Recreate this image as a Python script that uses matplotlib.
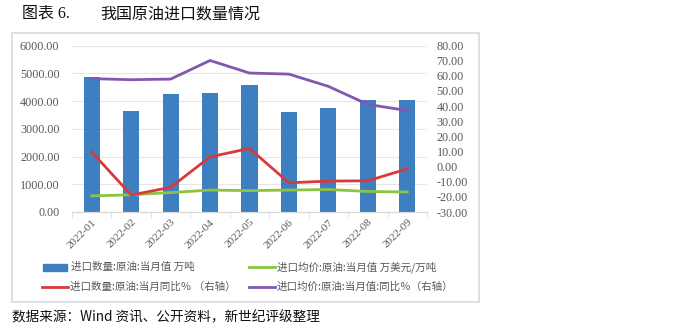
import numpy as np
import matplotlib
matplotlib.use("Agg")
import matplotlib.pyplot as plt
from matplotlib.patches import Rectangle

plt.rcParams['font.family'] = ['Noto Sans CJK SC', 'DejaVu Sans']

months = ["2022-01", "2022-02", "2022-03", "2022-04", "2022-05",
          "2022-06", "2022-07", "2022-08", "2022-09"]
# 进口数量 万吨 (left axis)
qty = [4880, 3630, 4260, 4300, 4580, 3590, 3740, 4030, 4030]
# 进口均价 万美元/万吨 (left axis)
price = [580, 620, 700, 790, 770, 790, 810, 740, 720]
# 进口数量 同比 % (right axis)
qty_yoy = [9.7, -18.8, -13.7, 6.4, 12.0, -10.7, -9.6, -9.4, -1.5]
# 进口均价 同比 % (right axis)
price_yoy = [58.1, 57.4, 57.8, 70.1, 61.8, 61.1, 53.0, 41.1, 37.0]

blue = "#3d7fc1"
green = "#8cc43f"
red = "#d9393b"
purple = "#8258ae"
serif = "Liberation Serif"

fig = plt.figure(figsize=(7, 3.3), dpi=100)

# outer frame of the chart
fig.patches.append(Rectangle((12 / 700, 1 - 302 / 330), (479 - 12) / 700, (302 - 33) / 330,
                             transform=fig.transFigure, fill=False,
                             edgecolor="#d9d9d9", linewidth=1.2))

ax = fig.add_axes([72 / 700, 1 - 212 / 330, (427 - 72) / 700, (212 - 45.5) / 330])
ax2 = ax.twinx()

x = np.arange(len(months))
ax.bar(x, qty, width=0.41, color=blue, zorder=2)
ax.plot(x, price, color=green, lw=2, zorder=3)
ax2.plot(x, qty_yoy, color=red, lw=2)
ax2.plot(x, price_yoy, color=purple, lw=2)

ax.set_xlim(-0.5, len(months) - 0.5)
ax.set_ylim(0, 6000)
ax.set_yticks(np.arange(0, 6001, 1000))
ax.set_yticklabels([f"{v:.2f}" for v in np.arange(0, 6001, 1000)],
                   fontfamily=serif, fontsize=8.7, color="#595959")
ax2.set_ylim(-30, 80)
ax2.set_yticks(np.arange(-30, 81, 10))
ax2.set_yticklabels([f"{v:.2f}" for v in np.arange(-30, 81, 10)],
                    fontfamily=serif, fontsize=8.7, color="#595959")

ax.set_xticks(x)
ax.set_xticklabels(months, rotation=45, ha="right", rotation_mode="anchor",
                   fontfamily=serif, fontsize=8, color="#595959")
ax.set_xticks(np.arange(-0.5, len(months)), minor=True)
ax.tick_params(axis="x", which="major", length=0, pad=4)
ax.tick_params(axis="x", which="minor", length=4, color="#d9d9d9")
ax.tick_params(axis="y", length=0, pad=9)
ax2.tick_params(axis="y", length=0, pad=7)

ax.grid(axis="y", color="#e6e6e6", lw=0.8, zorder=0)
ax.set_axisbelow(True)
for a in (ax, ax2):
    for s in ("top", "left", "right"):
        a.spines[s].set_visible(False)
    a.spines["bottom"].set_color("#d9d9d9")

# ax2 lines above bars
ax2.set_zorder(ax.get_zorder() + 1)
ax2.patch.set_visible(False)

# legend
leg_font = 7.6
def leg_patch(x0, y0, kind, color, label):
    if kind == "bar":
        fig.patches.append(Rectangle((x0 / 700, 1 - (y0 + 3.5) / 330), 24 / 700, 7 / 330,
                                     transform=fig.transFigure, color=color))
    else:
        fig.lines.append(plt.Line2D([x0 / 700, (x0 + 26) / 700], [1 - y0 / 330, 1 - y0 / 330],
                                    transform=fig.transFigure, color=color, lw=2))
    fig.text((x0 + 28) / 700, 1 - y0 / 330, label, fontsize=leg_font,
             color="#595959", va="center")

leg_patch(43, 267, "bar", blue, "进口数量:原油:当月值 万吨")
leg_patch(249, 267, "line", green, "进口均价:原油:当月值 万美元/万吨")
leg_patch(42, 287, "line", red, "进口数量:原油:当月同比％ （右轴）")
leg_patch(249, 287, "line", purple, "进口均价:原油:当月值:同比％（右轴）")

# title and source
fig.text(22 / 700, 1 - 14 / 330, "图表 6.", fontsize=11.5, va="center",
         family=[serif, 'Noto Sans CJK SC'], color="#111111")
fig.text(100 / 700, 1 - 14 / 330, "我国原油进口数量情况", fontsize=11.5, va="center",
         color="#111111")
fig.text(12 / 700, 1 - 317 / 330, "数据来源：Wind 资讯、公开资料，新世纪评级整理", fontsize=9.8,
         va="center", color="#111111")

fig.savefig("out.png", dpi=100)
